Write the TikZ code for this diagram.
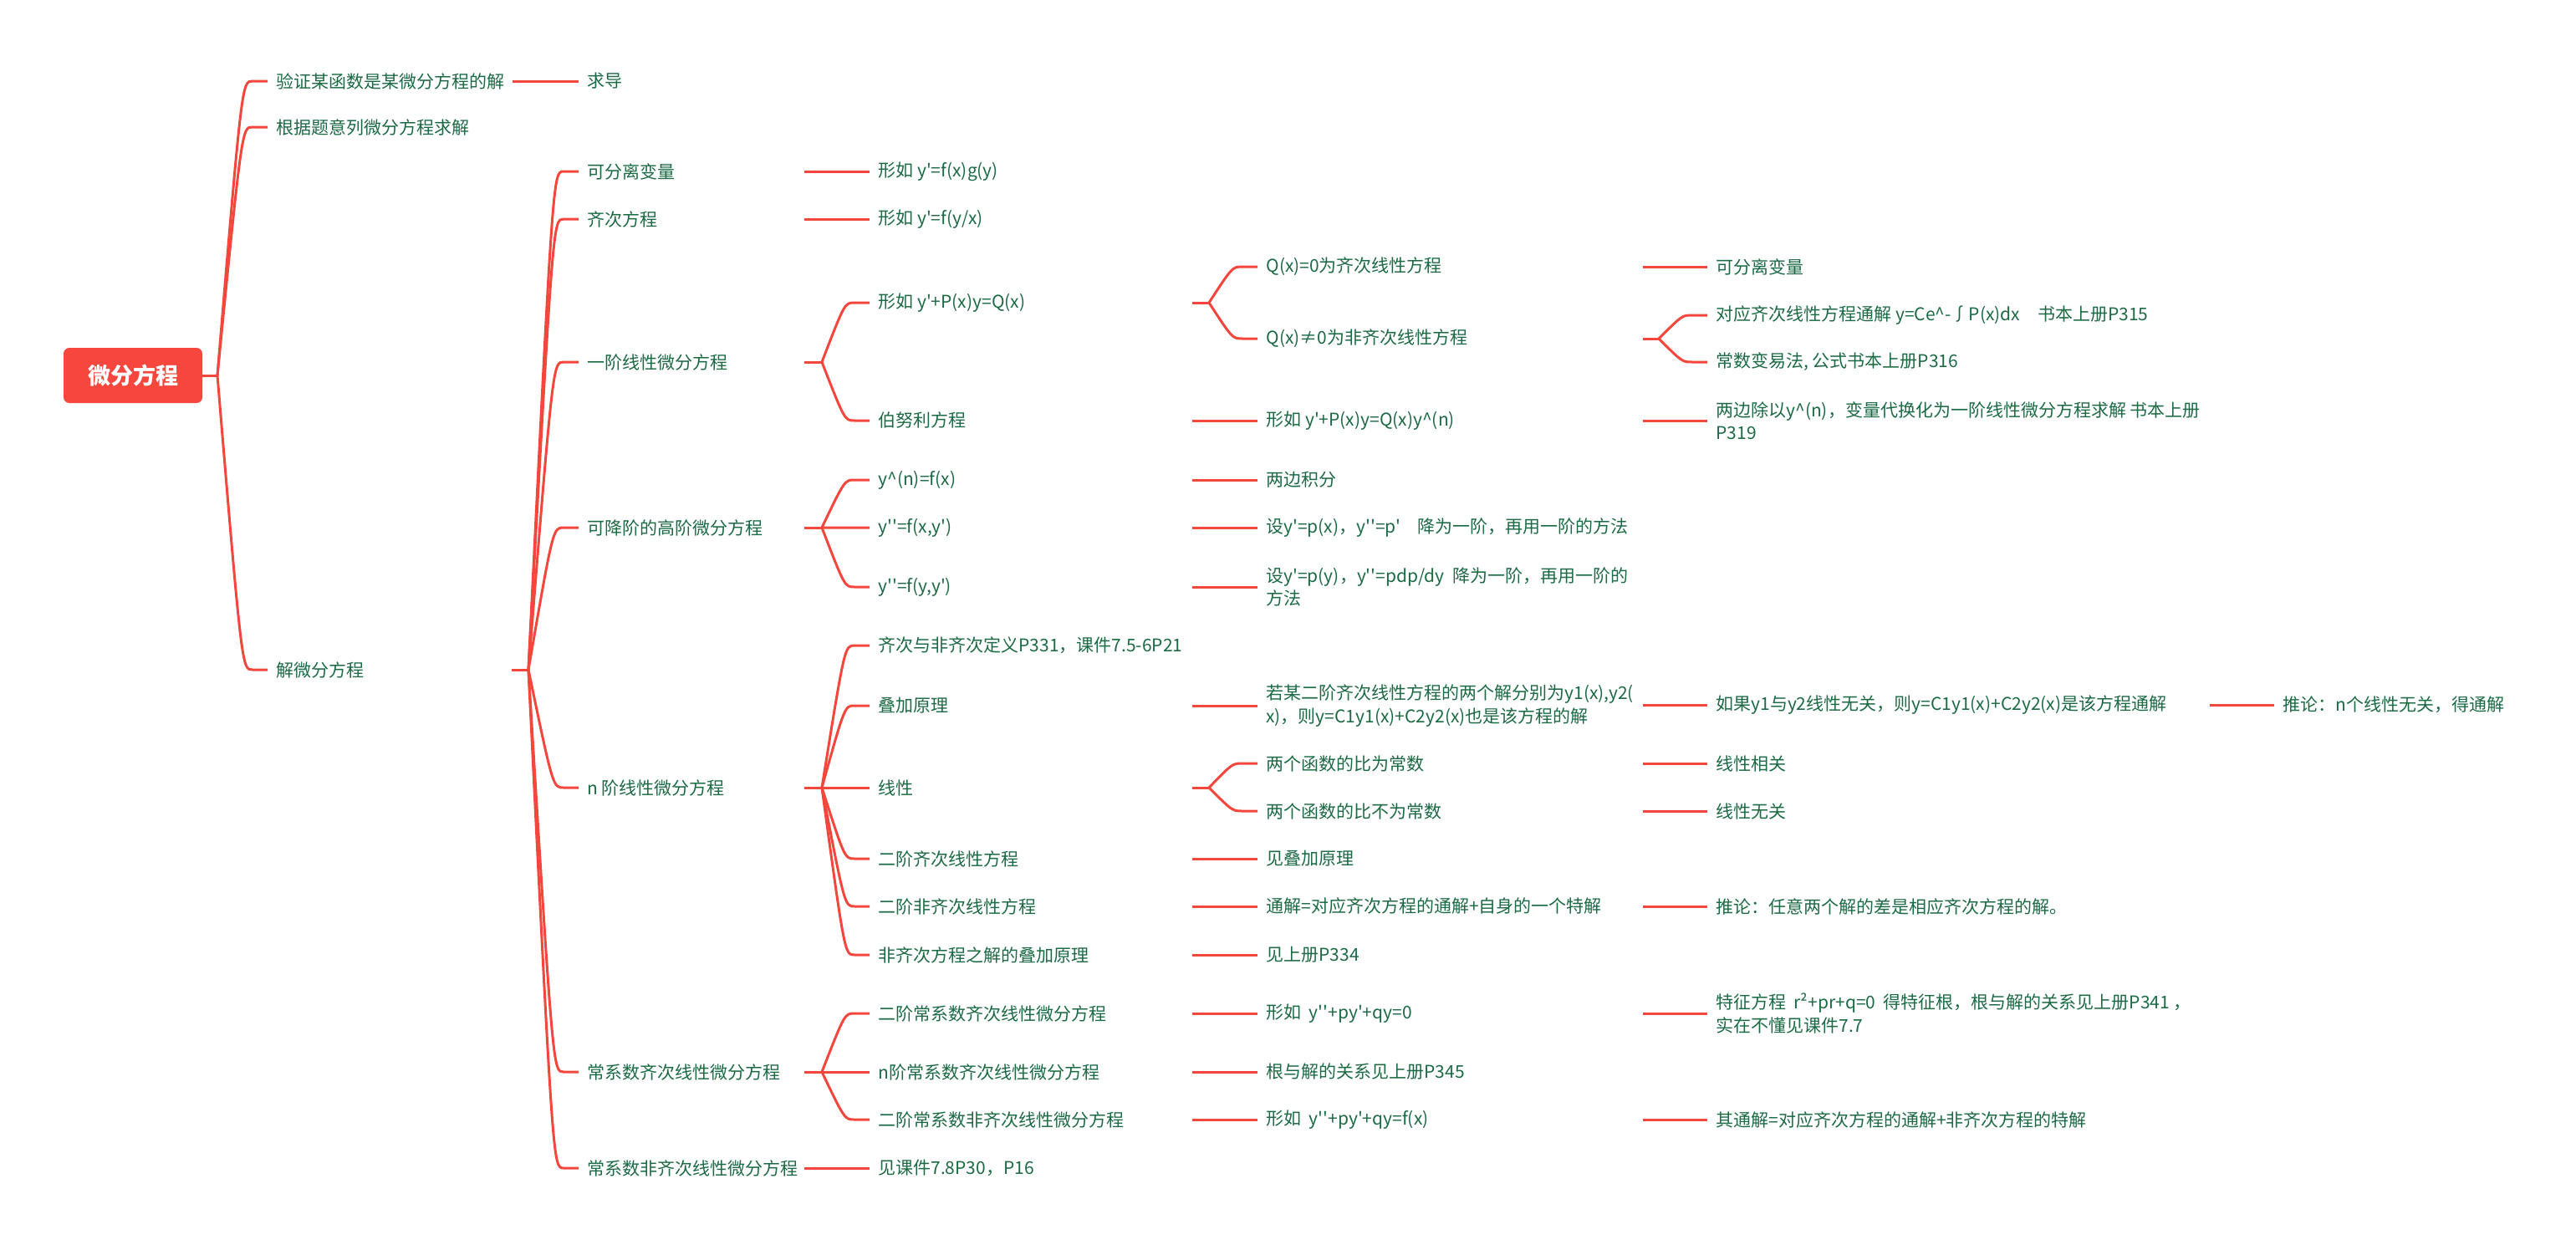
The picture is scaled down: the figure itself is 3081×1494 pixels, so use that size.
\documentclass[tikz,border=0pt]{standalone}
\usepackage{fontspec}
\usetikzlibrary{calc}
\newfontfamily\cjk{Noto Sans CJK SC}
\definecolor{lred}{HTML}{F3463C}
\definecolor{rootred}{HTML}{F7463D}
\definecolor{tgreen}{HTML}{1C6A45}
\tikzset{
  t/.style={anchor=west, inner xsep=5pt, inner ysep=0pt, text=tgreen,
    font=\cjk\fontsize{10.5}{13.75}\selectfont, align=left},
  conn/.style={draw=lred, line width=1.5pt},
  rootbox/.style={fill=rootred, rounded corners=3.5pt, minimum width=83pt,
    minimum height=33pt, inner sep=0pt, text=white,
    font=\cjk\bfseries\fontsize{13.5}{16}\selectfont}
}
\newcommand\brc[2]{%
  \path ([xshift=-9pt]#2.west) coordinate (tmpE);
  \path (#1 |- tmpE) coordinate (tmpA);
  \draw[conn] (#1) .. controls ($(tmpA)!0.7!(tmpE)$) and ($(tmpA)!0.7!(tmpE)$) .. (tmpE) -- (#2.west);}
\newcommand\stl[2]{\draw[conn] (#1) -- (#2.west);}
\begin{document}
\begin{tikzpicture}[x=0.5pt,y=-0.5pt]
\useasboundingbox (0,0) rectangle (3081,1494);
% root
\node[rootbox] (root) at (159,449) {微分方程};
\coordinate (b0) at (260,449);
\draw[conn] (root.east) -- (b0);
% level 1
\node[t] (a1) at (320,97) {验证某函数是某微分方程的解};
\node[t] (a2) at (320,152) {根据题意列微分方程求解};
\node[t] (a3) at (320,801) {解微分方程};
\brc{b0}{a1}\brc{b0}{a2}\brc{b0}{a3}
\coordinate (pa1) at (613,97);
\node[t] (a1c) at (692,97) {求导};
\stl{pa1}{a1c}
\coordinate (pa3) at (612,801);
\coordinate (ba3) at (632,801);
\draw[conn] (pa3) -- (ba3);
% level 2
\node[t] (c1) at (692,205) {可分离变量};
\node[t] (c2) at (692,262) {齐次方程};
\node[t] (c3) at (692,433) {一阶线性微分方程};
\node[t] (c4) at (692,631) {可降阶的高阶微分方程};
\node[t] (c5) at (692,942) {n 阶线性微分方程};
\node[t] (c6) at (692,1282) {常系数齐次线性微分方程};
\node[t] (c7) at (692,1397) {常系数非齐次线性微分方程};
\foreach \n in {c1,c2,c3,c4,c5,c6,c7} {\brc{ba3}{\n}}
% level 3
\node[t] (d1) at (1040,205) {形如 y'=f(x)g(y)};
\node[t] (d2) at (1040,262) {形如 y'=f(y/x)};
\node[t] (d3) at (1040,362) {形如 y'+P(x)y=Q(x)};
\node[t] (d4) at (1040,503) {伯努利方程};
\node[t] (d5) at (1040,574) {y\textasciicircum(n)=f(x)};
\node[t] (d6) at (1040,631) {y''=f(x,y')};
\node[t] (d7) at (1040,702) {y''=f(y,y')};
\node[t] (d8) at (1040,772) {齐次与非齐次定义P331，课件7.5-6P21};
\node[t] (d9) at (1040,844) {叠加原理};
\node[t] (d10) at (1040,942) {线性};
\node[t] (d11) at (1040,1027) {二阶齐次线性方程};
\node[t] (d12) at (1040,1084) {二阶非齐次线性方程};
\node[t] (d13) at (1040,1142) {非齐次方程之解的叠加原理};
\node[t] (d14) at (1040,1212) {二阶常系数齐次线性微分方程};
\node[t] (d15) at (1040,1282) {n阶常系数齐次线性微分方程};
\node[t] (d16) at (1040,1339) {二阶常系数非齐次线性微分方程};
\node[t] (d17) at (1040,1397) {见课件7.8P30，P16};
\coordinate (pc1) at (962,205); \stl{pc1}{d1}
\coordinate (pc2) at (962,262); \stl{pc2}{d2}
\coordinate (pc7) at (962,1397); \stl{pc7}{d17}
\coordinate (pc3) at (962,433); \coordinate (bc3) at (983,433);
\draw[conn] (pc3) -- (bc3); \brc{bc3}{d3}\brc{bc3}{d4}
\coordinate (pc4) at (962,631); \coordinate (bc4) at (983,631);
\draw[conn] (pc4) -- (bc4); \brc{bc4}{d5}\brc{bc4}{d6}\brc{bc4}{d7}
\coordinate (pc5) at (962,942); \coordinate (bc5) at (983,942);
\draw[conn] (pc5) -- (bc5);
\foreach \n in {d8,d9,d10,d11,d12,d13} {\brc{bc5}{\n}}
\coordinate (pc6) at (962,1282); \coordinate (bc6) at (983,1282);
\draw[conn] (pc6) -- (bc6); \brc{bc6}{d14}\brc{bc6}{d15}\brc{bc6}{d16}
% level 4
\node[t] (e1) at (1504,319) {Q(x)=0为齐次线性方程};
\node[t] (e2) at (1504,405) {Q(x)≠0为非齐次线性方程};
\node[t] (e3) at (1504,503) {形如 y'+P(x)y=Q(x)y\textasciicircum(n)};
\node[t] (e4) at (1504,574) {两边积分};
\node[t] (e5) at (1504,631) {设y'=p(x)，y''=p'\quad 降为一阶，再用一阶的方法};
\node[t] (e6) at (1504,702) {设y'=p(y)，y''=pdp/dy\ \ 降为一阶，再用一阶的\\方法};
\node[t] (e7) at (1504,844) {若某二阶齐次线性方程的两个解分别为y1(x),y2(\\x)，则y=C1y1(x)+C2y2(x)也是该方程的解};
\node[t] (e8) at (1504,913) {两个函数的比为常数};
\node[t] (e9) at (1504,970) {两个函数的比不为常数};
\node[t] (e10) at (1504,1027) {见叠加原理};
\node[t] (e11) at (1504,1084) {通解=对应齐次方程的通解+自身的一个特解};
\node[t] (e12) at (1504,1142) {见上册P334};
\node[t] (e13) at (1504,1212) {形如\ \ y''+py'+qy=0};
\node[t] (e14) at (1504,1282) {根与解的关系见上册P345};
\node[t] (e15) at (1504,1339) {形如\ \ y''+py'+qy=f(x)};
\coordinate (pd3) at (1426,362); \coordinate (bd3) at (1446,362);
\draw[conn] (pd3) -- (bd3); \brc{bd3}{e1}\brc{bd3}{e2}
\coordinate (pd4) at (1426,503); \stl{pd4}{e3}
\coordinate (pd5) at (1426,574); \stl{pd5}{e4}
\coordinate (pd6) at (1426,631); \stl{pd6}{e5}
\coordinate (pd7) at (1426,702); \stl{pd7}{e6}
\coordinate (pd9) at (1426,844); \stl{pd9}{e7}
\coordinate (pd10) at (1426,942); \coordinate (bd10) at (1446,942);
\draw[conn] (pd10) -- (bd10); \brc{bd10}{e8}\brc{bd10}{e9}
\coordinate (pd11) at (1426,1027); \stl{pd11}{e10}
\coordinate (pd12) at (1426,1084); \stl{pd12}{e11}
\coordinate (pd13) at (1426,1142); \stl{pd13}{e12}
\coordinate (pd14) at (1426,1212); \stl{pd14}{e13}
\coordinate (pd15) at (1426,1282); \stl{pd15}{e14}
\coordinate (pd16) at (1426,1339); \stl{pd16}{e15}
% level 5
\node[t] (f1) at (2042,319) {可分离变量};
\node[t] (f2) at (2042,377) {对应齐次线性方程通解 y=Ce\textasciicircum-∫P(x)dx\quad 书本上册P315};
\node[t] (f3) at (2042,433) {常数变易法, 公式书本上册P316};
\node[t] (f4) at (2042,503) {两边除以y\textasciicircum(n)，变量代换化为一阶线性微分方程求解 书本上册\\P319};
\node[t] (f5) at (2042,843) {如果y1与y2线性无关，则y=C1y1(x)+C2y2(x)是该方程通解};
\node[t] (f6) at (2042,913) {线性相关};
\node[t] (f7) at (2042,970) {线性无关};
\node[t] (f8) at (2042,1084) {推论：任意两个解的差是相应齐次方程的解。};
\node[t] (f9) at (2042,1212) {特征方程\ \ r²+pr+q=0\ \ 得特征根，根与解的关系见上册P341 ，\\实在不懂见课件7.7};
\node[t] (f10) at (2042,1339) {其通解=对应齐次方程的通解+非齐次方程的特解};
\coordinate (pe1) at (1965,319); \stl{pe1}{f1}
\coordinate (pe2) at (1965,405); \coordinate (be2) at (1984,405);
\draw[conn] (pe2) -- (be2); \brc{be2}{f2}\brc{be2}{f3}
\coordinate (pe3) at (1965,503); \stl{pe3}{f4}
\coordinate (pe7) at (1965,843); \stl{pe7}{f5}
\coordinate (pe8) at (1965,913); \stl{pe8}{f6}
\coordinate (pe9) at (1965,970); \stl{pe9}{f7}
\coordinate (pe11) at (1965,1084); \stl{pe11}{f8}
\coordinate (pe13) at (1965,1212); \stl{pe13}{f9}
\coordinate (pe15) at (1965,1339); \stl{pe15}{f10}
% level 6
\node[t] (g1) at (2720,843) {推论：n个线性无关，得通解};
\coordinate (pf5) at (2643,843); \stl{pf5}{g1}
\end{tikzpicture}
\end{document}
